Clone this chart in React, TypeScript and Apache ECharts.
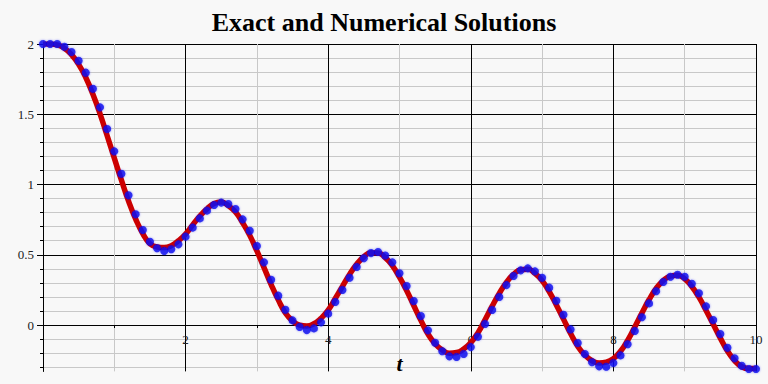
import React, { useEffect, useRef } from "react";
import * as echarts from "echarts";

const tValues = [
  0, 0.1, 0.2, 0.3, 0.4, 0.5, 0.6, 0.7, 0.8, 0.9,
  1, 1.1, 1.2, 1.3, 1.4, 1.5, 1.6, 1.7, 1.8, 1.9,
  2, 2.1, 2.2, 2.3, 2.4, 2.5, 2.6, 2.7, 2.8, 2.9,
  3, 3.1, 3.2, 3.3, 3.4, 3.5, 3.6, 3.7, 3.8, 3.9,
  4, 4.1, 4.2, 4.3, 4.4, 4.5, 4.6, 4.7, 4.8, 4.9,
  5, 5.1, 5.2, 5.3, 5.4, 5.5, 5.6, 5.7, 5.8, 5.9,
  6, 6.1, 6.2, 6.3, 6.4, 6.5, 6.6, 6.7, 6.8, 6.9,
  7, 7.1, 7.2, 7.3, 7.4, 7.5, 7.6, 7.7, 7.8, 7.9,
  8, 8.1, 8.2, 8.3, 8.4, 8.5, 8.6, 8.7, 8.8, 8.9,
  9, 9.1, 9.2, 9.3, 9.4, 9.5, 9.6, 9.7, 9.8, 9.9,
  10,
];

const exactValues = [
  2.0, 2.0, 1.994, 1.97, 1.924, 1.855, 1.762, 1.642, 1.503, 1.347,
  1.188, 1.031, 0.882, 0.754, 0.651, 0.579, 0.555, 0.551, 0.565, 0.6,
  0.648, 0.713, 0.776, 0.826, 0.865, 0.875, 0.85, 0.804, 0.728, 0.638,
  0.527, 0.409, 0.288, 0.179, 0.086, 0.029, -0.001, -0.007, 0.009, 0.048,
  0.106, 0.19, 0.275, 0.36, 0.432, 0.486, 0.514, 0.512, 0.48, 0.423,
  0.341, 0.246, 0.139, 0.033, -0.064, -0.134, -0.178, -0.2, -0.196, -0.171,
  -0.125, -0.056, 0.037, 0.135, 0.225, 0.304, 0.361, 0.393, 0.397, 0.368,
  0.316, 0.238, 0.143, 0.042, -0.06, -0.151, -0.214, -0.254, -0.27, -0.264,
  -0.239, -0.187, -0.109, -0.014, 0.085, 0.18, 0.26, 0.317, 0.348, 0.354,
  0.329, 0.274, 0.198, 0.104, 0.006, -0.093, -0.185, -0.253, -0.297, -0.31,
  -0.31,
];

const numericValues = [
  2.0, 2.0, 2.0, 1.981, 1.943, 1.881, 1.796, 1.682, 1.549, 1.395,
  1.236, 1.077, 0.923, 0.788, 0.676, 0.593, 0.546, 0.527, 0.539, 0.574,
  0.629, 0.693, 0.759, 0.814, 0.854, 0.871, 0.861, 0.826, 0.752, 0.671,
  0.562, 0.446, 0.322, 0.209, 0.109, 0.033, -0.014, -0.036, -0.024, 0.019,
  0.081, 0.164, 0.249, 0.337, 0.413, 0.475, 0.512, 0.52, 0.495, 0.446,
  0.368, 0.278, 0.171, 0.064, -0.038, -0.126, -0.187, -0.223, -0.228, -0.206,
  -0.157, -0.083, 0.007, 0.107, 0.199, 0.284, 0.349, 0.389, 0.403, 0.382,
  0.337, 0.266, 0.173, 0.073, -0.031, -0.128, -0.206, -0.265, -0.294, -0.297,
  -0.27, -0.216, -0.137, -0.043, 0.055, 0.154, 0.24, 0.306, 0.344, 0.358,
  0.344, 0.294, 0.226, 0.133, 0.036, -0.064, -0.162, -0.237, -0.29, -0.313,
  -0.313,
];

const yMinorTicks = [
  -0.3, -0.2, -0.1, 0, 0.1, 0.2, 0.3, 0.4, 0.5, 0.6, 0.7, 0.8, 0.9,
  1, 1.1, 1.2, 1.3, 1.4, 1.5, 1.6, 1.7, 1.8, 1.9, 2,
];
const yLabelTicks = [0, 0.5, 1, 1.5, 2];
const xLabelTicks = [2, 4, 6, 8, 10];

const Y_MIN = -0.33;
const Y_MAX = 2;

const SERIF = "'Liberation Serif', 'DejaVu Serif', serif";

export default function App() {
  const ref = useRef<HTMLDivElement>(null);

  useEffect(() => {
    document.body.style.margin = "0";
    if (!ref.current) return;
    const chart = echarts.init(ref.current, null, { renderer: "svg" });

    const exactData = tValues.map((t, i) => [t, exactValues[i]]);
    const numericData = tValues.map((t, i) => [t, numericValues[i]]);

    const gridTop = 44;
    const gridBottom = 12.6;
    const plotHeight = 384 - gridTop - gridBottom;
    // lift the x axis line up to y = 0 of the value axis
    const zeroOffset = ((0 - Y_MIN) / (Y_MAX - Y_MIN)) * plotHeight;

    chart.setOption({
      animation: false,
      backgroundColor: "#f8f8f8",
      title: {
        text: "Exact and Numerical Solutions",
        left: "center",
        top: 4,
        textStyle: {
          fontFamily: SERIF,
          fontWeight: "bold",
          fontSize: 26,
          color: "#000",
        },
      },
      grid: {
        left: 43,
        right: 12,
        top: gridTop,
        bottom: gridBottom,
        containLabel: false,
        outerBoundsMode: "none",
      },
      xAxis: {
        type: "value",
        min: 0,
        max: 10,
        interval: 1,
        offset: -zeroOffset,
        name: "t",
        nameLocation: "middle",
        nameGap: 27,
        nameTextStyle: {
          fontFamily: SERIF,
          fontWeight: "bold",
          fontStyle: "italic",
          fontSize: 22,
          color: "#000",
        },
        axisLine: {
          show: true,
          onZero: false,
          lineStyle: { color: "#000", width: 1 },
        },
        axisTick: { show: true, length: 3, lineStyle: { color: "#000" } },
        axisLabel: {
          fontFamily: SERIF,
          fontSize: 13,
          color: "#222",
          margin: 8,
          formatter: (v: number) => (xLabelTicks.includes(v) ? String(v) : ""),
        },
        splitLine: {
          show: true,
          lineStyle: { color: ["#000", "#c8c8c8"], width: 1 },
        },
      },
      yAxis: [
        {
          type: "value",
          min: Y_MIN,
          max: Y_MAX,
          axisLine: { show: true, lineStyle: { color: "#000", width: 1 } },
          axisTick: {
            show: true,
            length: 3,
            customValues: yMinorTicks,
            lineStyle: { color: "#000" },
          },
          axisLabel: {
            fontFamily: SERIF,
            fontSize: 13,
            color: "#222",
            margin: 9,
            customValues: yLabelTicks,
            formatter: (v: number) => String(v),
          },
          splitLine: {
            show: true,
            lineStyle: {
              color: ["#c8c8c8", "#c8c8c8", "#c8c8c8", "#000", "#c8c8c8"],
              width: 1,
            },
          },
        },
        {
          type: "value",
          min: Y_MIN,
          max: Y_MAX,
          position: "left",
          axisLine: { show: false },
          axisTick: {
            show: true,
            length: 6,
            customValues: yLabelTicks,
            lineStyle: { color: "#000" },
          },
          axisLabel: { show: false },
          splitLine: { show: false },
        },
      ],
      series: [
        {
          name: "Exact",
          type: "line",
          data: exactData,
          smooth: true,
          showSymbol: false,
          symbol: "none",
          lineStyle: { color: "#cc0000", width: 5.5 },
          z: 3,
        },
        {
          name: "Numerical",
          type: "scatter",
          data: numericData,
          symbol: "circle",
          symbolSize: 8,
          itemStyle: {
            color: "#0a0aee",
            shadowBlur: 2,
            shadowColor: "rgba(0,0,255,0.5)",
          },
          z: 4,
        },
      ],
    });

    return () => chart.dispose();
  }, []);

  return (
    <div
      ref={ref}
      style={{ position: "absolute", left: 0, top: 0, width: 768, height: 384 }}
    />
  );
}
